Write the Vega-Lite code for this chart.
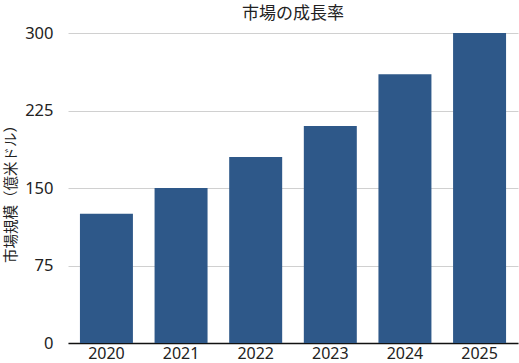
{
  "$schema": "https://vega.github.io/schema/vega-lite/v6.json",
  "width": 450,
  "height": 310,
  "autosize": {"type": "none"},
  "padding": {"left": 68, "top": 33, "right": 1, "bottom": 20},
  "background": "white",
  "title": {
    "text": "市場の成長率",
    "font": "Noto Sans CJK JP",
    "fontSize": 17,
    "fontWeight": "normal",
    "color": "#222",
    "anchor": "middle",
    "offset": 2
  },
  "data": {
    "values": [
      {"year": "2020", "value": 125},
      {"year": "2021", "value": 150},
      {"year": "2022", "value": 180},
      {"year": "2023", "value": 210},
      {"year": "2024", "value": 260},
      {"year": "2025", "value": 300}
    ]
  },
  "mark": {"type": "bar", "color": "#2e5889"},
  "encoding": {
    "x": {
      "field": "year",
      "type": "nominal",
      "scale": {"paddingInner": 0.29, "paddingOuter": 0.16},
      "axis": {
        "title": null,
        "labelAngle": 0,
        "labelFont": "Noto Sans",
        "labelFontSize": 16,
        "labelColor": "#222",
        "labelPadding": 2,
        "ticks": false,
        "domainColor": "#111",
        "domainWidth": 1.5
      }
    },
    "y": {
      "field": "value",
      "type": "quantitative",
      "scale": {"domain": [0, 300], "nice": false},
      "axis": {
        "title": "市場規模（億米ドル）",
        "titleFont": "Noto Sans CJK JP",
        "titleFontSize": 14.5,
        "titleFontWeight": "normal",
        "titleColor": "#222",
        "titleAngle": -90,
        "titleX": -57,
        "titleY": 157,
        "titleAlign": "center",
        "titleBaseline": "middle",
        "values": [0, 75, 150, 225, 300],
        "labelFont": "Noto Sans",
        "labelFontSize": 16.5,
        "labelColor": "#222",
        "labelPadding": 15,
        "ticks": false,
        "domain": false,
        "gridColor": "#d0d0d0",
        "gridWidth": 1
      }
    }
  },
  "config": {"view": {"stroke": null}}
}
